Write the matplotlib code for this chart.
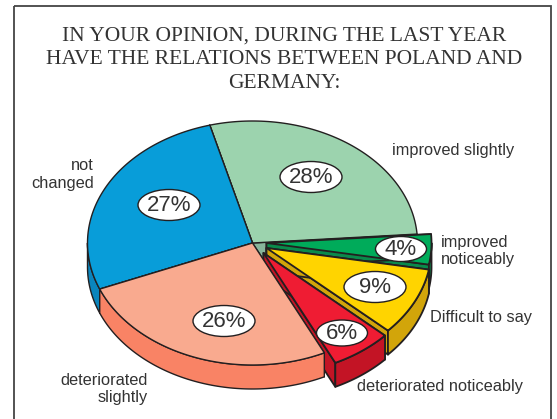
#!/usr/bin/env python3
"""Exploded pseudo-3D pie: opinion on Polish-German relations."""

import numpy as np
import matplotlib
matplotlib.use('Agg')
import matplotlib.pyplot as plt
from matplotlib.patches import Ellipse, Polygon, Rectangle

title_lines = ["IN YOUR OPINION, DURING THE LAST YEAR",
               "HAVE THE RELATIONS BETWEEN POLAND AND",
               "GERMANY:"]
# counter-clockwise from the top-left boundary
categories = ["not\nchanged", "deteriorated\nslightly", "deteriorated noticeably",
              "Difficult to say", "improved\nnoticeably", "improved slightly"]
values = [27, 26, 6, 9, 4, 28]

top_colors = ['#089DD9', '#F9AA8F', '#EF1C33', '#FFD400', '#00AB5A', '#9CD3AE']
side_colors = ['#0A85BD', '#F98365', '#C31425', '#D2A50A', '#0A8A4B', '#87B59B']
offsets = [(0, 0), (0, 0), (11, 10), (14, 5), (14, 0), (0, 0)]

W, H = 557, 419
CX, CY = 252.5, 243
RX, RY = 165, 122
DEPTH = 24
START = 105.0
INK = '#231F20'
TXT = '#333333'

fig = plt.figure(figsize=(W / 100, H / 100), dpi=100)
ax = fig.add_axes([0, 0, 1, 1])
ax.set_xlim(0, W)
ax.set_ylim(H, 0)
ax.axis('off')

ax.add_patch(Rectangle((14, 6.5), 537, 430, fill=False, ec='#444444', lw=1.3, zorder=0))


def arc(a0, a1, off, drop=0.0):
    t = np.radians(np.linspace(a0, a1, 90))
    return np.column_stack([CX + off[0] + RX * np.cos(t),
                            CY + off[1] + RY * -np.sin(t) + drop])


def radial_wall(angle, off, color, lw=1.0):
    rim = arc(angle, angle, off)[0]
    apex = np.array([CX + off[0], CY + off[1]])
    d = np.array([0, DEPTH])
    ax.add_patch(Polygon([apex, rim, rim + d, apex + d], fc=color, ec=INK, lw=lw, joinstyle='round'))


def outer_wall(a0, a1, off, color, lw=1.0):
    lo, hi = max(a0, 180), min(a1, 360)
    if hi <= lo:
        return
    pts = np.vstack([arc(lo, hi, off), arc(hi, lo, off, DEPTH)])
    ax.add_patch(Polygon(pts, fc=color, ec=INK, lw=lw, joinstyle='round'))


def top_face(a0, a1, off, color, lw=1.0):
    apex = [[CX + off[0], CY + off[1]]]
    pts = np.vstack([apex, arc(a0, a1, off)])
    ax.add_patch(Polygon(pts, fc=color, ec=INK, lw=lw, joinstyle='round'))


spans = []
a = START
for v in values:
    spans.append((a, a + v * 3.6))
    a += v * 3.6


def draw_walls(i, lw=1.0):
    a0, a1 = spans[i]
    radial_wall(a0 % 360, offsets[i], side_colors[i], lw)
    radial_wall(a1 % 360, offsets[i], side_colors[i], lw)


def draw_body(i, lw=1.0):
    a0, a1 = spans[i]
    outer_wall(a0, a1, offsets[i], side_colors[i], lw)
    top_face(a0, a1, offsets[i], top_colors[i], lw)


# painter's order: inner walls of the pulled-out slices sit behind the salmon slice
for i in (5, 0):
    draw_walls(i)
    draw_body(i)
for i in (4, 3, 2):
    draw_walls(i, 1.3)
draw_walls(1)
draw_body(1)
for i in (4, 3, 2):
    draw_body(i, 1.3)

# percent bubbles
bubble_xy = [(169, 205), (224, 321), (342, 333), (375, 287), (401, 249), (311, 177)]
bubble_wh = [(62, 31), (62, 31), (51, 26), (62, 31), (51, 25), (62, 31)]
for v, (x, y), (w, h) in zip(values, bubble_xy, bubble_wh):
    ax.add_patch(Ellipse((x, y), w, h, fc='white', ec=INK, lw=1.0, zorder=5))
    ax.text(x, y + 0.5, f"{v}%", ha='center', va='center', fontsize=16,
            family='Liberation Sans', color=TXT, zorder=6)

# title
for line, y in zip(title_lines, [36.5, 59.5, 83.5]):
    ax.text(284, y, line, ha='center', va='center', fontsize=15.5,
            family='Liberation Serif', color=TXT)

# category labels
label_xy = [(94, 174.5), (148, 389), (357, 386), (430, 317), (441, 251), (392, 150)]
label_ha = ['right', 'right', 'left', 'left', 'left', 'left']
for s, (x, y), ha in zip(categories, label_xy, label_ha):
    ax.text(x, y, s, ha=ha, va='center', fontsize=11.8, linespacing=1.22,
            family='Liberation Sans', color=TXT)

fig.savefig('out.png', dpi=100)
